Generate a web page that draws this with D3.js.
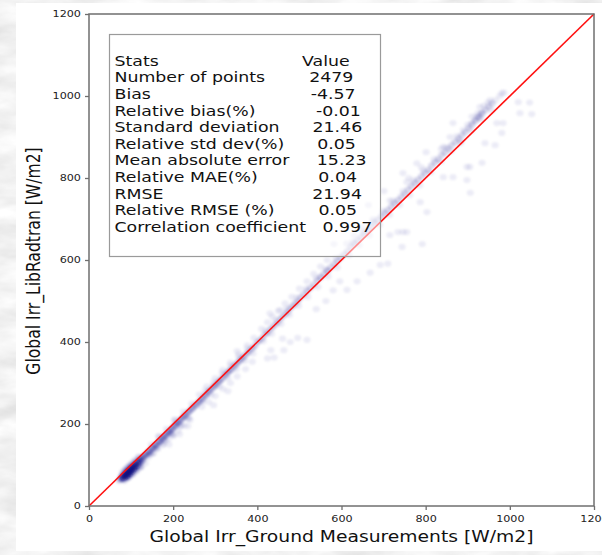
<!DOCTYPE html>
<html>
<head>
<meta charset="utf-8">
<script src="https://cdn.jsdelivr.net/npm/d3@7"></script>
<style>
  html, body { margin: 0; padding: 0; overflow: hidden; background: #dcdcdc; }
  svg { display: block; }
  text { font-family: "DejaVu Sans", sans-serif; }
</style>
</head>
<body>
<svg id="chart" width="602" height="555"></svg>
<script>
// Axis ticks (W/m2)
const xTicks = [0, 200, 400, 600, 800, 1000, 1200];
const yTicks = [0, 200, 400, 600, 800, 1000, 1200];

// Summary statistics, one printed line each
const statsLines = [
  "Stats                          Value",
  "Number of points        2479",
  "Bias                             -4.57",
  "Relative bias(%)           -0.01",
  "Standard deviation      21.46",
  "Relative std dev(%)      0.05",
  "Mean absolute error     15.23",
  "Relative MAE(%)           0.04",
  "RMSE                           21.94",
  "Relative RMSE (%)        0.05",
  "Correlation coefficient   0.997"
];

// 1:1 reference line
const identity = [[0, 0], [1200, 1200]];

// Observations: [ground measurement, LibRadtran, number of coincident samples]
const obs = [
  // low-irradiance cluster
  [76,66,4],[78,72,5],[80,66,6],[82,74,9],[84,70,8],[86,78,12],[88,72,10],[90,82,14],[92,76,12],[94,86,14],
  [96,80,12],[98,90,12],[100,84,10],[102,94,11],[104,88,9],[106,98,9],[108,92,8],[110,102,8],[112,96,6],[114,106,6],
  [116,100,5],[118,110,5],[120,104,4],[122,114,4],[124,108,3],[126,118,3],[128,112,3],[130,120,3],
  [80,82,2],[86,88,3],[92,94,3],[98,100,3],[104,106,2],[110,112,2],[84,62,2],[94,70,3],[104,78,2],[114,88,2],
  [124,96,2],[134,104,1],[72,62,2],[118,120,2],[90,68,3],[100,76,3],[110,84,2],[120,94,2],
  // 130 - 250
  [134,124,4],[138,126,3],[142,132,4],[146,134,3],[150,140,4],[154,142,3],[158,148,4],[162,150,3],[166,156,4],[170,158,3],
  [174,164,4],[178,168,3],[182,172,4],[186,176,3],[190,180,4],[194,184,3],[198,188,4],[202,194,3],[206,196,3],[210,202,4],
  [214,204,3],[218,210,3],[222,214,3],[226,218,3],[230,222,3],[234,226,2],[238,230,3],[242,234,2],[246,238,3],[250,242,2],
  [140,118,1],[152,128,2],[164,140,1],[176,150,2],[188,162,1],[200,172,2],[212,184,1],[226,196,1],[240,210,1],
  [148,150,1],[166,170,2],[184,188,1],[204,210,2],[224,230,1],[244,250,1],[190,150,1],[215,175,1],[235,195,1],
  [145,126,2],[160,140,2],[180,160,2],[196,176,2],[218,196,2],[236,214,2],
  // 250 - 400
  [254,246,3],[258,250,2],[262,254,3],[266,258,2],[270,262,3],[274,268,2],[278,270,3],[282,276,2],[286,280,3],[290,284,2],
  [294,288,2],[298,292,3],[302,296,2],[306,300,2],[310,304,3],[314,308,2],[318,312,2],[322,318,2],[326,320,2],[330,326,3],
  [334,330,2],[338,332,2],[342,338,2],[346,342,2],[350,346,2],[354,350,2],[358,354,2],[362,358,2],[366,362,2],[370,366,2],
  [375,372,2],[380,376,2],[385,382,2],[390,386,2],[395,392,2],
  [262,272,1],[280,292,1],[300,312,1],[318,332,1],[336,350,1],[356,370,1],[376,392,1],[392,410,1],[352,378,1],
  [268,242,1],[284,254,1],[300,268,1],[318,286,1],[336,300,1],[352,316,1],[372,334,1],[388,352,1],[296,246,1],[330,280,1],
  [270,254,1],[290,272,1],[310,292,1],[330,312,1],[350,334,1],[370,354,1],[390,372,1],
  [276,282,1],[296,302,1],[316,324,1],[336,342,1],[356,364,1],[376,384,1],
  // 400 - 600
  [400,400,2],[406,404,2],[412,410,2],[418,418,2],[424,422,2],[430,430,2],[436,436,2],[442,442,2],[448,448,2],[454,456,2],
  [460,462,2],[466,468,2],[472,474,2],[478,482,2],[484,488,2],[490,494,2],[496,500,2],[502,508,2],[510,516,2],[518,524,2],
  [526,532,2],[534,540,2],[542,550,2],[550,558,3],[558,566,2],[566,574,3],[574,582,2],[582,590,2],[590,598,2],[598,606,2],
  [410,432,1],[424,448,1],[436,462,1],[450,476,1],[466,494,1],[482,510,1],[500,530,1],[518,548,1],[534,566,1],[550,584,1],
  [566,600,1],[582,639,1],[430,470,1],[454,478,1],
  [424,360,1],[440,362,1],[432,380,1],[460,408,1],[478,400,1],[496,410,1],[518,405,1],[463,380,1],[540,480,1],[563,500,1],
  [580,526,1],[596,548,1],
  [414,402,1],[434,420,1],[456,444,1],[476,466,1],[498,488,1],[520,510,1],[544,534,1],[568,560,1],[590,582,1],
  [420,428,1],[444,454,1],[470,482,1],[494,508,1],[516,530,1],[540,556,1],[562,578,1],[586,604,1],
  // 600 - 800
  [606,614,2],[614,622,2],[622,632,2],[630,640,2],[638,648,2],[646,656,2],[654,664,2],[662,672,2],[670,680,2],[678,690,2],
  [686,698,2],[694,706,2],[702,714,2],[710,722,2],[718,730,2],[726,738,2],[734,746,2],[742,754,2],[750,762,2],[758,772,2],
  [766,780,2],[774,788,2],[782,796,2],[790,804,2],[798,812,2],
  [612,640,1],[630,660,1],[648,680,1],[664,734,1],[675,700,1],[701,768,1],[715,745,1],[746,812,1],[755,790,1],[779,836,1],
  [760,800,1],[790,826,1],
  [613,527,1],[637,548,1],[668,569,1],[692,588,1],[710,591,1],[744,632,1],[755,668,1],[734,668,1],[715,661,1],[746,668,1],
  [792,639,1],[787,741,1],[803,717,1],
  [618,612,1],[642,636,1],[666,660,1],[690,686,1],[714,710,1],[738,734,1],[762,758,1],[786,782,1],
  [626,644,1],[650,670,1],[674,694,1],[698,720,1],[722,744,1],[746,768,1],[770,794,1],[794,818,1],
  // 800 - 1050
  [806,820,2],[814,830,2],[822,838,2],[830,846,2],[838,856,2],[846,862,2],[854,872,2],[862,880,2],[870,888,2],[878,896,2],
  [886,904,2],[894,912,2],[902,922,2],[910,930,2],[918,940,3],[926,948,3],[934,958,3],[942,966,2],[950,974,2],[958,982,2],
  [966,990,1],[976,1000,1],[986,1008,1],
  [801,863,1],[837,871,1],[858,900,1],[865,934,1],[889,917,1],[910,950,1],[929,973,1],[953,990,1],[981,1007,1],[920,949,1],
  [938,976,1],[842,876,1],
  [842,802,1],[865,802,1],[898,795,1],[906,764,1],[898,827,1],[905,827,1],[934,837,1],[941,885,1],[965,880,1],[969,934,1],
  [984,934,1],[981,910,1],[1020,985,1],[1047,984,1],[1024,958,1],[1052,956,1],[882,885,1],[929,954,1],[910,934,1],
  [812,814,1],[836,840,1],[860,866,1],[884,890,1],[908,916,1],[932,944,1],[956,966,1],
  [820,846,1],[848,874,1],[874,902,1],[900,930,1],[924,958,1],[948,984,1]
];

const svg = d3.select("#chart");
const W = 602, H = 555;

// grey marbled backdrop and white figure panel
const defs = svg.append("defs");
const marble = defs.append("filter").attr("id", "marble")
  .attr("x", 0).attr("y", 0).attr("width", "100%").attr("height", "100%");
marble.append("feTurbulence").attr("type", "fractalNoise")
  .attr("baseFrequency", "0.018 0.045").attr("numOctaves", 4).attr("seed", 11);
marble.append("feColorMatrix").attr("type", "matrix")
  .attr("values", "0.22 0.22 0.22 0 0.56  0.22 0.22 0.22 0 0.56  0.22 0.22 0.22 0 0.56  0 0 0 0 1");
svg.append("rect").attr("width", W).attr("height", H).attr("filter", "url(#marble)");
svg.append("rect").attr("x", 16).attr("y", 3).attr("width", W - 16).attr("height", 548).attr("fill", "#fff");

// softened marker edges
const soft = defs.append("filter").attr("id", "soft")
  .attr("x", "-5%").attr("y", "-5%").attr("width", "110%").attr("height", "110%");
soft.append("feGaussianBlur").attr("stdDeviation", 0.9);

const x = d3.scaleLinear().domain([0, 1200]).range([89, 594]);
const y = d3.scaleLinear().domain([0, 1200]).range([506, 14]);

const clip = defs.append("clipPath").attr("id", "plotArea");
clip.append("rect").attr("x", 89).attr("y", 14).attr("width", 505).attr("height", 492);

// scatter
const alpha = 0.075;
svg.append("g").attr("clip-path", "url(#plotArea)")
  .append("g").attr("filter", "url(#soft)")
  .selectAll("ellipse").data(obs).join("ellipse")
  .attr("cx", d => x(d[0])).attr("cy", d => y(d[1]))
  .attr("rx", 3.6).attr("ry", 3.1)
  .attr("fill", "#0b0b80")
  .attr("fill-opacity", d => 1 - Math.pow(1 - alpha, d[2]));

// 1:1 line
svg.append("path").datum(identity)
  .attr("d", d3.line().x(d => x(d[0])).y(d => y(d[1])))
  .attr("stroke", "#ff1010").attr("stroke-width", 1.6).attr("fill", "none");

// frame
const spine = "#6f6f6f";
svg.append("rect").attr("x", 89).attr("y", 14).attr("width", 505).attr("height", 492)
  .attr("fill", "none").attr("stroke", spine).attr("stroke-width", 1.5);

// axes
const sx = 1.2;
const xAxis = svg.append("g").attr("transform", "translate(0,506)")
  .call(d3.axisBottom(x).tickValues(xTicks).tickSize(4).tickPadding(5).tickFormat(d3.format("d")));
const yAxis = svg.append("g").attr("transform", "translate(89,0)")
  .call(d3.axisLeft(y).tickValues(yTicks).tickSize(4).tickPadding(2.7).tickFormat(d3.format("d")));
[xAxis, yAxis].forEach(g => {
  g.select(".domain").remove();
  g.selectAll(".tick line").attr("stroke", spine).attr("stroke-width", 1.3);
  g.selectAll(".tick text")
    .attr("fill", "#222")
    .style("font-size", "9.3px")
    .style("font-family", "'DejaVu Sans', sans-serif")
    .attr("transform", `scale(${sx},1)`);
});

// axis titles
svg.append("text")
  .attr("transform", `translate(341.5,541.5) scale(${sx},1)`)
  .attr("text-anchor", "middle").attr("fill", "#111").style("font-size", "15.6px")
  .text("Global Irr_Ground Measurements [W/m2]");
svg.append("text")
  .attr("transform", `translate(39.8,261) scale(${sx},1) rotate(-90)`)
  .attr("text-anchor", "middle").attr("fill", "#111").style("font-size", "15.6px")
  .text("Global Irr_LibRadtran [W/m2]");

// stats box
svg.append("rect").attr("x", 109.5).attr("y", 34.5).attr("width", 271).attr("height", 222)
  .attr("fill", "#fff").attr("fill-opacity", 0.5)
  .attr("stroke", "#9a9a9a").attr("stroke-width", 1.2);
svg.append("g").selectAll("text").data(statsLines).join("text")
  .attr("transform", (d, i) => `translate(114.5,${65.7 + i * 16.63}) scale(1.24,1)`)
  .attr("fill", "#111").style("font-size", "14px").style("white-space", "pre")
  .attr("xml:space", "preserve")
  .text(d => d);
</script>
</body>
</html>
